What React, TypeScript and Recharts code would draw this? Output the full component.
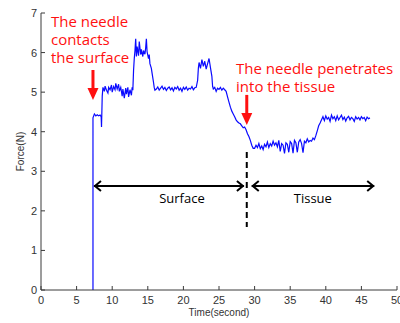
import { LineChart, Line, XAxis, YAxis, ReferenceLine, ReferenceDot } from 'recharts';

// force sensor trace: [time (s), force (N)]
const forceTrace: [number, number][] = [
    [7.3, 0], [7.3, 4.35], [7.5, 4.45], [7.7, 4.4], [7.9, 4.43], [8.1, 4.4], [8.3, 4.42], [8.45, 4.38],
    [8.5, 4.12], [8.6, 4.9], [8.7, 5.12],
    [8.9, 5.02], [9.0, 5.15], [9.2, 5.05], [9.4, 4.98], [9.5, 5.12], [9.7, 5.06], [9.9, 5.18], [10.0, 5.0],
    [10.2, 5.14], [10.4, 5.06], [10.5, 5.22], [10.7, 5.08], [10.9, 5.2], [11.0, 5.02], [11.2, 5.12],
    [11.4, 4.9], [11.5, 5.08], [11.7, 4.85], [11.9, 5.1], [12.0, 4.95], [12.2, 5.12], [12.3, 4.88],
    [12.5, 5.06], [12.7, 4.92], [12.8, 5.12], [12.9, 5.05],
    [13.0, 5.55], [13.1, 5.85], [13.2, 6.05], [13.3, 6.35], [13.4, 5.9], [13.5, 6.15], [13.7, 5.92],
    [13.8, 6.28], [14.0, 5.95], [14.1, 6.08], [14.3, 5.9], [14.4, 6.05], [14.6, 5.96], [14.7, 6.12],
    [14.8, 6.35], [14.9, 6.02], [15.1, 5.85], [15.2, 5.95], [15.3, 5.72], [15.5, 5.6], [15.6, 5.48],
    [15.8, 5.25], [15.9, 5.12], [16.0, 5.05],
    [16.2, 5.08], [16.4, 5.13], [16.6, 5.05], [16.8, 5.1], [17.0, 5.15], [17.2, 5.07], [17.4, 5.12],
    [17.6, 5.04], [17.8, 5.1], [18.0, 5.13], [18.2, 5.06], [18.4, 5.11], [18.6, 5.03], [18.8, 5.12],
    [19.0, 5.08], [19.2, 5.14], [19.4, 5.05], [19.6, 5.1], [19.8, 5.02], [20.0, 5.12], [20.2, 5.07],
    [20.4, 5.13], [20.6, 5.05], [20.8, 5.1], [21.0, 5.08], [21.2, 5.14], [21.4, 5.06], [21.6, 5.11],
    [21.8, 5.12],
    [22.0, 5.3], [22.1, 5.6], [22.2, 5.75], [22.4, 5.6], [22.6, 5.82], [22.8, 5.65], [23.0, 5.78],
    [23.2, 5.58], [23.4, 5.72], [23.6, 5.85], [23.8, 5.62], [24.0, 5.4], [24.1, 5.15],
    [24.2, 5.08], [24.4, 5.12], [24.6, 5.02], [24.8, 5.1], [25.0, 5.07], [25.2, 5.12], [25.4, 5.05],
    [25.6, 5.1], [25.8, 5.06],
    [26.0, 5.02], [26.2, 4.88], [26.4, 4.75], [26.6, 4.62], [26.8, 4.52], [27.0, 4.45], [27.2, 4.38],
    [27.4, 4.3], [27.6, 4.25], [27.8, 4.22], [28.0, 4.2], [28.2, 4.15], [28.4, 4.1], [28.6, 4.12],
    [28.8, 4.05], [29.0, 3.95], [29.2, 3.88], [29.4, 3.78], [29.6, 3.66], [29.8, 3.58],
    [30.0, 3.58], [30.2, 3.66], [30.4, 3.6], [30.6, 3.7], [30.8, 3.57], [31.0, 3.64], [31.2, 3.55],
    [31.4, 3.68], [31.6, 3.62], [31.8, 3.74], [32.0, 3.6], [32.2, 3.7], [32.4, 3.64], [32.6, 3.76],
    [32.8, 3.66], [33.0, 3.72], [33.2, 3.62], [33.4, 3.78], [33.6, 3.5], [33.8, 3.7], [34.0, 3.66],
    [34.2, 3.45], [34.4, 3.72], [34.6, 3.68], [34.8, 3.48], [35.0, 3.75], [35.2, 3.7], [35.4, 3.46],
    [35.6, 3.78], [35.8, 3.72], [36.0, 3.48], [36.2, 3.74], [36.4, 3.8], [36.6, 3.7], [36.8, 3.47],
    [37.0, 3.76], [37.2, 3.72], [37.4, 3.82], [37.6, 3.74], [37.8, 3.78], [38.0, 3.76], [38.2, 3.84],
    [38.4, 3.8], [38.6, 3.9], [38.8, 4.02], [39.0, 4.15], [39.2, 4.22], [39.4, 4.3],
    [39.6, 4.38], [39.8, 4.28], [40.0, 4.4], [40.2, 4.32], [40.4, 4.36], [40.6, 4.26], [40.8, 4.42],
    [41.0, 4.33], [41.2, 4.38], [41.4, 4.28], [41.6, 4.4], [41.8, 4.3], [42.0, 4.36], [42.2, 4.42],
    [42.4, 4.31], [42.6, 4.37], [42.8, 4.27], [43.0, 4.35], [43.2, 4.39], [43.4, 4.3], [43.6, 4.36],
    [43.8, 4.33], [44.0, 4.26], [44.2, 4.38], [44.4, 4.32], [44.6, 4.36], [44.8, 4.3], [45.0, 4.38],
    [45.2, 4.33], [45.4, 4.36], [45.6, 4.28], [45.8, 4.37], [46.0, 4.33], [46.2, 4.35],
];

const xTicks = [0, 5, 10, 15, 20, 25, 30, 35, 40, 45, 50];
const yTicks = [0, 1, 2, 3, 4, 5, 6, 7];

const contactNote = ['The needle', 'contacts', 'the surface'];
const penetrateNote = ['The needle penetrates', 'into the tissue'];

const AXIS = '#3a3a3a';
const RED = '#ff1010';
const TICK = 4;
const tickFont = { fontFamily: 'Liberation Sans, Arial, sans-serif', fontSize: 11, fill: '#333' };

const data = forceTrace.map(([t, f]) => ({ t, f }));

function BottomTick({ x, y, payload }: any) {
    return (
        <g>
            <line x1={x} y1={y - 14} x2={x} y2={y - 14 - TICK} stroke={AXIS} />
            <text x={x} y={y} textAnchor="middle" {...tickFont}>{payload.value}</text>
        </g>
    );
}

function LeftTick({ x, y, payload }: any) {
    return (
        <g>
            <line x1={x + 4} y1={y} x2={x + 4 + TICK} y2={y} stroke={AXIS} />
            <text x={x} y={y + 4} textAnchor="end" {...tickFont}>{payload.value}</text>
        </g>
    );
}

const TopTick = ({ x, y }: any) => <line x1={x} y1={y} x2={x} y2={y + TICK} stroke={AXIS} />;
const RightTick = ({ x, y }: any) => <line x1={x} y1={y} x2={x - TICK} y2={y} stroke={AXIS} />;

// red pointer, head at the second segment point
function RedArrow({ x1, y1, x2, y2 }: any) {
    return (
        <g>
            <line x1={x1} y1={y1} x2={x2} y2={y2 - 9} stroke={RED} strokeWidth={3} />
            <path d={`M${x2 - 5.5},${y2 - 12} L${x2 + 5.5},${y2 - 12} L${x2},${y2} Z`} fill={RED} />
        </g>
    );
}

// black double-headed arrow with open heads
function SpanArrow({ x1, y1, x2, y2 }: any) {
    return (
        <g stroke="#000" strokeWidth={2} fill="none">
            <line x1={x1} y1={y1} x2={x2} y2={y2} />
            <path d={`M${x1 + 7},${y1 - 5} L${x1 + 1},${y1} L${x1 + 7},${y1 + 5}`} />
            <path d={`M${x2 - 7},${y2 - 5} L${x2 - 1},${y2} L${x2 - 7},${y2 + 5}`} />
        </g>
    );
}

const note = (lines: string[], color: string, size: number, gap: number) => (p: any) => (
    <text x={p.cx} y={p.cy} fill={color} fontSize={size} fontFamily="Open Sans, sans-serif">
        {lines.map((l, i) => (
            <tspan key={i} x={p.cx} dy={i === 0 ? 0 : gap}>{l}</tspan>
        ))}
    </text>
);

export default function App() {
    return (
        <div style={{ position: 'absolute', left: 0, top: 0, background: '#fff' }}>
            <LineChart width={400} height={323} data={data} margin={{ top: 13, right: 3, bottom: 0, left: 0 }}>
                <XAxis
                    dataKey="t"
                    type="number"
                    domain={[0, 50]}
                    ticks={xTicks}
                    interval={0}
                    height={33}
                    tickSize={0}
                    tickMargin={14}
                    tick={<BottomTick />}
                    axisLine={{ stroke: AXIS }}
                    label={{
                        content: ({ viewBox }: any) => (
                            <text
                                x={viewBox.x + viewBox.width / 2}
                                y={viewBox.y + 26}
                                textAnchor="middle"
                                fontFamily="Liberation Sans, Arial, sans-serif"
                                fontSize={10}
                                fill="#333"
                            >
                                Time(second)
                            </text>
                        ),
                    }}
                />
                <XAxis
                    xAxisId="top"
                    orientation="top"
                    type="number"
                    domain={[0, 50]}
                    ticks={xTicks}
                    interval={0}
                    height={0}
                    tickSize={0}
                    tickMargin={0}
                    tick={<TopTick />}
                    axisLine={{ stroke: AXIS }}
                    allowDataOverflow
                />
                <YAxis
                    type="number"
                    domain={[0, 7]}
                    ticks={yTicks}
                    interval={0}
                    width={41}
                    tickSize={0}
                    tickMargin={4}
                    tick={<LeftTick />}
                    axisLine={{ stroke: AXIS }}
                    label={{
                        content: ({ viewBox }: any) => {
                            const cx = viewBox.x + 20;
                            const cy = viewBox.y + viewBox.height / 2;
                            return (
                                <text
                                    x={cx}
                                    y={cy}
                                    transform={`rotate(-90 ${cx} ${cy})`}
                                    textAnchor="middle"
                                    dominantBaseline="central"
                                    fontFamily="Liberation Sans, Arial, sans-serif"
                                    fontSize={10}
                                    fill="#333"
                                >
                                    Force(N)
                                </text>
                            );
                        },
                    }}
                />
                <YAxis
                    yAxisId="right"
                    orientation="right"
                    type="number"
                    domain={[0, 7]}
                    ticks={yTicks}
                    interval={0}
                    width={0}
                    tickSize={0}
                    tickMargin={0}
                    tick={<RightTick />}
                    axisLine={{ stroke: AXIS }}
                    allowDataOverflow
                />
                <Line
                    dataKey="f"
                    type="linear"
                    stroke="#0a0aff"
                    strokeWidth={1.2}
                    dot={false}
                    isAnimationActive={false}
                />
                <ReferenceLine
                    segment={[{ x: 28.9, y: 3.49 }, { x: 28.9, y: 1.59 }]}
                    stroke="#000"
                    strokeWidth={2}
                    strokeDasharray="6 4"
                />
                <ReferenceLine segment={[{ x: 7.44, y: 2.63 }, { x: 28.5, y: 2.63 }]} shape={SpanArrow} />
                <ReferenceLine segment={[{ x: 29.6, y: 2.63 }, { x: 46.8, y: 2.63 }]} shape={SpanArrow} />
                <ReferenceLine segment={[{ x: 7.3, y: 5.56 }, { x: 7.3, y: 4.8 }]} shape={RedArrow} />
                <ReferenceLine segment={[{ x: 28.9, y: 4.93 }, { x: 28.9, y: 4.17 }]} shape={RedArrow} />
                <ReferenceDot x={1.4} y={6.65} shape={note(contactNote, RED, 15, 18)} />
                <ReferenceDot x={27.4} y={5.46} shape={note(penetrateNote, RED, 15, 18)} />
                <ReferenceDot x={16.6} y={2.2} shape={note(['Surface'], '#000', 13, 0)} />
                <ReferenceDot x={35.5} y={2.2} shape={note(['Tissue'], '#000', 13, 0)} />
            </LineChart>
        </div>
    );
}
